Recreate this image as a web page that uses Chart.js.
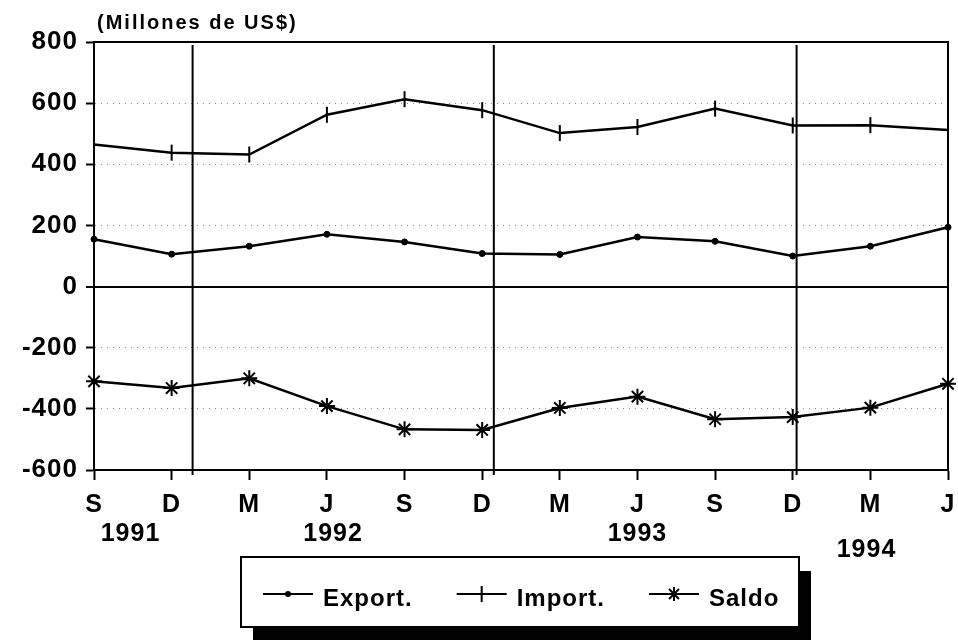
<!DOCTYPE html>
<html>
<head>
<meta charset="utf-8">
<script src="https://cdn.jsdelivr.net/npm/chart.js@4.4.1/dist/chart.umd.min.js"></script>
<style>
  html, body { margin: 0; padding: 0; background: #fff; }
  canvas { display: block; }
</style>
</head>
<body>
<canvas id="chart" width="958" height="640"></canvas>
<script>
// Data (millones de US$), quarterly Sep 1991 - Jun 1994
const quarters = ['S', 'D', 'M', 'J', 'S', 'D', 'M', 'J', 'S', 'D', 'M', 'J'];
const years = ['1991', '1992', '1993', '1994'];
const exportValues = [155, 106, 132, 171, 146, 108, 105, 162, 148, 100, 132, 194];
const importValues = [465, 438, 432, 562, 613, 577, 502, 522, 582, 527, 528, 512];
const saldoValues = [-310, -332, -300, -391, -467, -469, -397, -360, -434, -427, -396, -318];
const yTicks = [-600, -400, -200, 0, 200, 400, 600, 800];
const unitLabel = '(Millones de US$)';

// Layout helpers (x in category-index units)
const YEAR_POS = [0.47, 3.08, 7.0, 9.95];
const YEAR_ROW = [0, 0, 0, 1];
const SEPARATORS = [1.27, 5.15, 9.05];

const FONT = '"Liberation Sans", Arial, Helvetica, sans-serif';
const INK = '#000';
const SOLID_Y = [0, 800, -600];

function drawMarker(ctx, style, x, y) {
  ctx.save();
  ctx.strokeStyle = INK;
  ctx.fillStyle = INK;
  ctx.lineWidth = 2;
  ctx.beginPath();
  if (style === 'circle') {
    ctx.arc(x, y, 3, 0, Math.PI * 2);
    ctx.fill();
  } else if (style === 'line') {
    ctx.moveTo(x, y - 8);
    ctx.lineTo(x, y + 8);
    ctx.stroke();
  } else {
    const r = 7;
    for (let a = 0; a < 4; a++) {
      const ang = a * Math.PI / 4;
      ctx.moveTo(x - Math.cos(ang) * r, y - Math.sin(ang) * r);
      ctx.lineTo(x + Math.cos(ang) * r, y + Math.sin(ang) * r);
    }
    ctx.stroke();
  }
  ctx.restore();
}

const decorations = {
  id: 'decorations',
  beforeDraw(chart) {
    chart.ctx.letterSpacing = '1px';
  },
  beforeDatasetsDraw(chart) {
    const { ctx, chartArea: a, scales: { x } } = chart;
    ctx.save();
    ctx.strokeStyle = INK;
    ctx.lineWidth = 2;
    // year separators
    SEPARATORS.forEach((p) => {
      const px = x.getPixelForValue(p);
      ctx.beginPath();
      ctx.moveTo(px, a.top + 3);
      ctx.lineTo(px, a.bottom + 5);
      ctx.stroke();
    });
    // frame
    ctx.strokeRect(a.left, a.top, a.right - a.left, a.bottom - a.top);
    ctx.restore();
  },
  afterDraw(chart) {
    const { ctx, scales: { x } } = chart;
    ctx.save();
    ctx.fillStyle = INK;

    // unit label
    ctx.font = 'bold 20px ' + FONT;
    ctx.letterSpacing = '2px';
    ctx.textAlign = 'left';
    ctx.textBaseline = 'alphabetic';
    ctx.fillText(unitLabel, 97, 29);

    // years under the quarter labels
    ctx.font = 'bold 25px ' + FONT;
    ctx.letterSpacing = '1px';
    ctx.textAlign = 'center';
    years.forEach((yr, i) => {
      ctx.fillText(yr, x.getPixelForValue(YEAR_POS[i]), 541 + YEAR_ROW[i] * 16);
    });

    // legend box with drop shadow
    const box = { left: 241, top: 557, right: 799, bottom: 627 };
    ctx.fillRect(box.left + 12, box.top + 14, box.right - box.left, box.bottom - box.top);
    ctx.fillStyle = '#fff';
    ctx.fillRect(box.left, box.top, box.right - box.left, box.bottom - box.top);
    ctx.strokeStyle = INK;
    ctx.lineWidth = 2;
    ctx.strokeRect(box.left, box.top, box.right - box.left, box.bottom - box.top);

    ctx.fillStyle = INK;
    ctx.textAlign = 'left';
    ctx.font = 'bold 24px ' + FONT;
    let cx = 263;
    const lineY = 594;
    chart.data.datasets.forEach((ds) => {
      ctx.beginPath();
      ctx.lineWidth = 2;
      ctx.moveTo(cx, lineY);
      ctx.lineTo(cx + 50, lineY);
      ctx.stroke();
      drawMarker(ctx, ds.pointStyle, cx + 25, lineY);
      ctx.fillText(ds.label, cx + 60, 606);
      cx += 60 + ctx.measureText(ds.label).width + 44;
    });
    ctx.restore();
  },
};

new Chart(document.getElementById('chart'), {
  type: 'line',
  data: {
    labels: quarters,
    datasets: [
      {
        label: 'Export.',
        data: exportValues,
        borderColor: INK,
        backgroundColor: INK,
        borderWidth: 2.5,
        pointStyle: 'circle',
        pointRadius: 3,
        pointBorderWidth: 1,
      },
      {
        label: 'Import.',
        data: importValues,
        borderColor: INK,
        backgroundColor: INK,
        borderWidth: 2.5,
        pointStyle: 'line',
        pointRotation: 90,
        pointRadius: 8,
        pointBorderWidth: 2,
      },
      {
        label: 'Saldo',
        data: saldoValues,
        borderColor: INK,
        backgroundColor: INK,
        borderWidth: 2.5,
        pointStyle: 'star',
        pointRadius: 8,
        pointBorderWidth: 2,
      },
    ],
  },
  options: {
    responsive: false,
    animation: false,
    layout: { padding: { top: 42, right: 10, left: 0, bottom: 0 } },
    plugins: {
      legend: { display: false },
      title: { display: false },
      tooltip: { enabled: false },
    },
    scales: {
      x: {
        offset: false,
        grid: {
          drawOnChartArea: false,
          tickLength: 10,
          tickColor: INK,
          tickWidth: 2,
        },
        border: { color: INK, width: 2 },
        ticks: {
          color: INK,
          font: { family: FONT, size: 25, weight: 'bold' },
          padding: 10,
          maxRotation: 0,
          autoSkip: false,
        },
        afterFit(s) {
          s.height = 170;
          s.paddingLeft = 0;
          s.paddingRight = 0;
        },
      },
      y: {
        min: -600,
        max: 800,
        afterBuildTicks(s) { s.ticks = yTicks.map((v) => ({ value: v })); },
        grid: {
          color: (c) => (SOLID_Y.includes(c.tick?.value) ? INK : '#8c8c8c'),
          lineWidth: (c) => (c.tick?.value === 0 ? 2 : 1),
          tickLength: 8,
          tickColor: INK,
          tickWidth: 2,
        },
        border: {
          color: INK,
          width: 2,
          dash: (c) => (c.tick && !SOLID_Y.includes(c.tick.value) ? [1, 5] : []),
        },
        ticks: {
          color: INK,
          font: { family: FONT, size: 26, weight: 'bold' },
          padding: 8,
        },
        afterFit(s) { s.width = 94; },
      },
    },
  },
  plugins: [decorations],
});
</script>
</body>
</html>
